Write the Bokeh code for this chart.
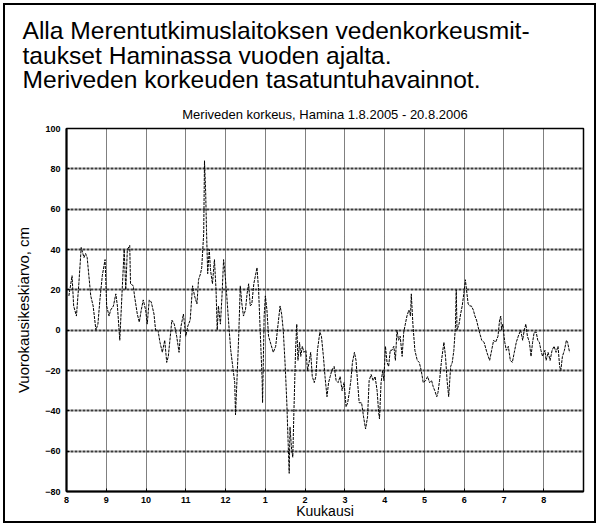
from bokeh.plotting import figure
from bokeh.models import Title, FixedTicker, Range1d, ColumnDataSource
from bokeh.embed import file_html
from bokeh.resources import INLINE

# x axis: months since 1.8.2005 (tick at the start of each month)
month_labels = ["8", "9", "10", "11", "12", "1", "2", "3", "4", "5", "6", "7", "8"]
month_ticks = list(range(len(month_labels)))
level_ticks = [-80, -60, -40, -20, 0, 20, 40, 60, 80, 100]

# daily mean sea level, autumn 2005 (month position, cm)
pos_2005 = [0.06, 0.14, 0.18, 0.25, 0.31, 0.37, 0.44, 0.48, 0.52, 0.61, 0.67, 0.74, 0.79, 0.84,
            0.90, 0.97, 1.01, 1.07, 1.11, 1.18, 1.24, 1.28, 1.34, 1.40, 1.45, 1.49, 1.53, 1.59,
            1.61, 1.68, 1.71, 1.78, 1.83, 1.88, 1.93, 1.99, 2.03, 2.08, 2.13, 2.20, 2.24, 2.30,
            2.35, 2.41, 2.47, 2.52, 2.56, 2.65, 2.71, 2.77, 2.83, 2.88, 2.94, 3.00, 3.05, 3.11,
            3.17, 3.22, 3.28, 3.32, 3.37, 3.40, 3.45, 3.47, 3.50, 3.52, 3.55, 3.59, 3.62, 3.67,
            3.72, 3.76, 3.79, 3.82, 3.87, 3.91, 3.95, 3.99, 4.03, 4.08, 4.13, 4.18, 4.23, 4.25,
            4.29, 4.33, 4.37, 4.41, 4.45, 4.50, 4.54, 4.58, 4.62, 4.66, 4.71, 4.75, 4.79, 4.83,
            4.87, 4.92, 4.93, 4.97]
lvl_2005 = [17, 27, 12, 7, 23, 41, 36, 38, 36, 17, 12, 0, 3, 15,
            27, 35, 12, 7, 10, 12, 18, 12, -5, 20, 40, 20, 40, 42,
            23, 22, 17, 8, 4, 10, 15, 10, 3, 15, 14, 8, 0, 0,
            -6, -11, -5, -16, -13, 5, 3, -3, -11, 2, 8, -3, 2, 5,
            22, 17, 13, 25, 28, 31, 48, 84, 68, 50, 28, 40, 30, 23,
            35, 20, 0, 12, 3, 17, 35, 27, 17, 3, -10, -18, -26, -42,
            -23, -3, 22, 13, 7, 10, 18, 23, 12, 13, 23, 27, 31, 20,
            0, -25, -36, 7]

# daily mean sea level, 2006
pos_2006 = [5.00, 5.04, 5.08, 5.20, 5.26, 5.32, 5.37, 5.41, 5.45, 5.50, 5.54, 5.57, 5.60, 5.62,
            5.66, 5.69, 5.72, 5.76, 5.79, 5.82, 5.86, 5.89, 5.93, 5.97, 6.02, 6.06, 6.10, 6.14,
            6.18, 6.23, 6.27, 6.31, 6.37, 6.41, 6.46, 6.50, 6.55, 6.59, 6.63, 6.67, 6.73, 6.78,
            6.83, 6.88, 6.93, 6.98, 7.03, 7.07, 7.11, 7.15, 7.19, 7.24, 7.28, 7.32, 7.36, 7.42,
            7.47, 7.52, 7.57, 7.61, 7.66, 7.71, 7.76, 7.81, 7.85, 7.87, 7.91, 7.95, 7.98, 8.02,
            8.06, 8.10, 8.14, 8.18, 8.23, 8.27, 8.31, 8.35, 8.39, 8.44, 8.48, 8.52, 8.56, 8.61,
            8.65, 8.67, 8.71, 8.76, 8.82, 8.87, 8.92, 8.97, 9.03, 9.08, 9.13, 9.18, 9.22, 9.26,
            9.31, 9.34, 9.38, 9.43, 9.49, 9.53, 9.57, 9.61, 9.66, 9.70, 9.74, 9.78, 9.80, 9.82,
            9.87, 9.91, 9.95, 9.99, 10.03, 10.07, 10.10, 10.14, 10.18, 10.23, 10.27, 10.31, 10.37,
            10.44, 10.50, 10.57, 10.64, 10.69, 10.74, 10.79, 10.85, 10.89, 10.92, 10.94, 10.97,
            11.02, 11.06, 11.11, 11.16, 11.21, 11.26, 11.31, 11.36, 11.42, 11.47, 11.51, 11.55,
            11.59, 11.64, 11.68, 11.72, 11.76, 11.81, 11.85, 11.89, 11.93, 11.97, 12.03, 12.06,
            12.11, 12.16, 12.21, 12.26, 12.31, 12.36, 12.40, 12.43, 12.47, 12.52, 12.57, 12.60,
            12.65]
lvl_2006 = [17, 10, -3, -11, -8, 3, 12, 8, 0, -18, -36, -54, -71, -48,
            -59, -63, -39, -10, 3, -15, -6, -13, -8, -11, -10, -20, -16, -11,
            -23, -26, -23, -10, -1, -3, -13, -23, -33, -26, -23, -20, -18, -25,
            -26, -23, -30, -26, -38, -36, -31, -25, -16, -11, -15, -26, -36, -36,
            -43, -49, -43, -25, -22, -25, -23, -30, -41, -44, -26, -20, -25, -8,
            -16, -18, -10, -10, -8, -15, 0, -5, -3, -13, -1, 3, 7, 10,
            7, 18, 3, -10, -15, -16, -20, -26, -25, -23, -26, -25, -28, -30,
            -33, -31, -25, -15, -6, -13, -25, -33, -18, -16, -10, 2, 20, 0,
            3, 8, 12, 18, 25, 18, 13, 12, 12, 10, 7, 5, 0,
            -5, -6, -11, -15, -10, -5, -6, -3, 5, 7, 0, 3,
            -6, -10, -8, -15, -16, -11, -6, -3, 0, -5, 0, 3,
            -3, -6, -13, -6, -1, -1, -5, -6, -10, -13, -10, -15,
            -11, -15, -10, -8, -11, -8, -18, -20, -13, -10, -5, -6,
            -11]

src = ColumnDataSource(dict(x=pos_2005 + pos_2006, y=lvl_2005 + lvl_2006))

p = figure(width=589, height=516, x_range=Range1d(0, 13), y_range=Range1d(-80, 100),
           output_backend="svg", toolbar_location=None, title=None,
           min_border_left=61, min_border_right=11, min_border_top=123, min_border_bottom=28,
           background_fill_color="white", border_fill_color="white")
p.margin = (5, 0, 0, 5)
p.styles = {"outline": "2px solid black", "outline-offset": "0px"}

p.line("x", "y", source=src, line_color="black", line_width=1, line_dash="3 1")

sub = Title(text="Meriveden korkeus, Hamina 1.8.2005 - 20.8.2006", align="center",
            text_font="Liberation Sans", text_font_size="13px", text_font_style="normal",
            text_color="black", standoff=13)
p.add_layout(sub, "above")
head = Title(text="Alla Merentutkimuslaitoksen vedenkorkeusmit-\ntaukset Haminassa vuoden ajalta.\nMeriveden korkeuden tasatuntuhavainnot.",
             align="left", offset=-44, text_font="Liberation Sans", text_font_size="24.6px",
             text_font_style="normal", text_color="black", text_line_height=0.92, standoff=10)
p.add_layout(head, "above")

p.outline_line_color = "black"
p.outline_line_width = 1.5

p.xaxis.ticker = FixedTicker(ticks=month_ticks)
p.xaxis.major_label_overrides = {t: lab for t, lab in zip(month_ticks, month_labels)}
p.yaxis.ticker = FixedTicker(ticks=level_ticks)
p.xaxis.axis_label = "Kuukausi"
p.yaxis.axis_label = "Vuorokausikeskiarvo, cm"
for ax in (p.xaxis, p.yaxis):
    ax.axis_line_color = "black"
    ax.axis_line_width = 2
    ax.major_tick_in = 3
    ax.major_tick_out = 0
    ax.minor_tick_line_color = None
    ax.major_tick_line_color = "black"
    ax.major_label_text_font = "Liberation Sans"
    ax.major_label_text_font_style = "bold"
    ax.major_label_text_font_size = "9px"
    ax.major_label_text_color = "black"
    ax.axis_label_text_font = "Liberation Sans"
    ax.axis_label_text_font_style = "normal"
    ax.axis_label_text_font_size = "15px"
    ax.axis_label_text_color = "black"
p.xaxis.axis_label_text_font_size = "14px"
p.xaxis.major_label_standoff = 5
p.xaxis.axis_label_standoff = -3
p.yaxis.major_label_standoff = 6
p.yaxis.axis_label_standoff = 10

p.xgrid.ticker = FixedTicker(ticks=month_ticks)
p.ygrid.ticker = FixedTicker(ticks=level_ticks)
p.xgrid.grid_line_color = "black"
p.xgrid.grid_line_width = 1
p.xgrid.grid_line_dash = "1 1"
p.ygrid.grid_line_color = "#3a3a3a"
p.ygrid.grid_line_width = 2
p.ygrid.grid_line_dash = "3 1"

open("out.html", "w").write(file_html(p, INLINE))
